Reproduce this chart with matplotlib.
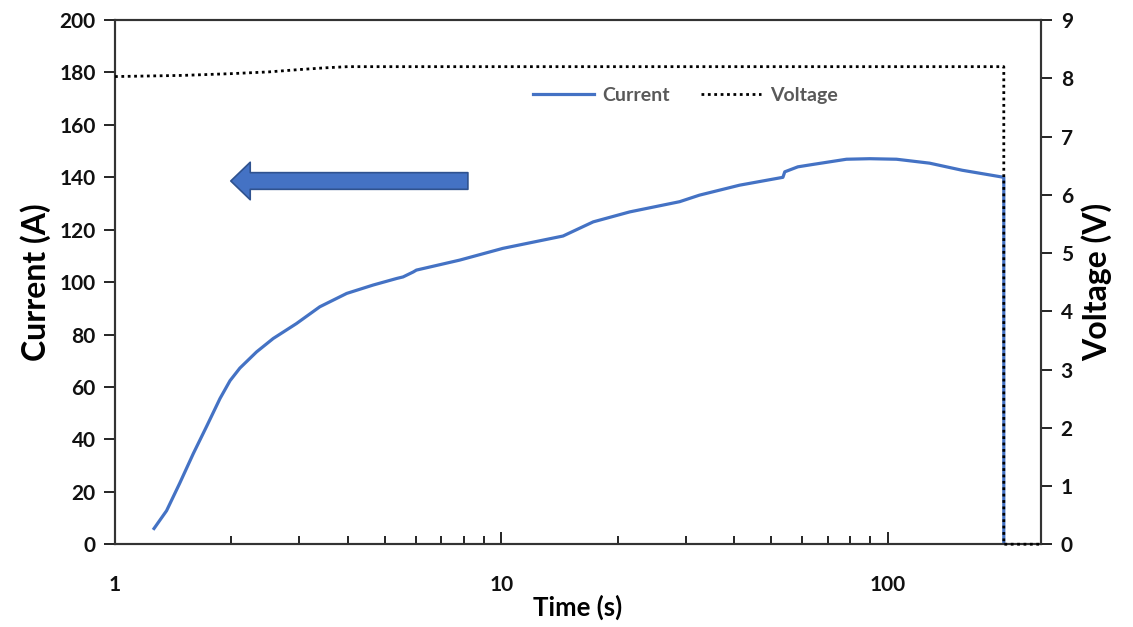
import numpy as np
import matplotlib.pyplot as plt
from matplotlib.ticker import FixedLocator, NullFormatter

plt.rcParams['font.family'] = ['Lato', 'DejaVu Sans']

# current trace (time in s, current in A)
t_current = [1.262, 1.36, 1.47, 1.595, 1.727, 1.87, 1.985, 2.105, 2.326, 2.568,
             2.95, 3.39, 3.98, 4.66, 5.36, 5.57, 5.92, 6.03, 7.8, 10.1, 14.45,
             17.3, 21.5, 28.96, 32.6, 41.4, 53.6, 54.2, 58.6, 64.0, 78.3, 90.0,
             105.5, 128.5, 156.0, 200.0, 200.0]
current = [6.0, 12.8, 23.2, 34.6, 45.0, 55.6, 62.4, 67.2, 73.4, 78.5,
           84.2, 90.6, 95.7, 98.9, 101.4, 102.0, 103.9, 104.6, 108.4, 112.9, 117.6,
           123.0, 126.8, 130.7, 133.2, 137.0, 140.0, 142.1, 144.0, 144.9, 146.9, 147.1,
           146.9, 145.4, 142.7, 140.0, 0.0]

# voltage trace (time in s, voltage in V)
t_voltage = [1.0, 1.5, 2.0, 2.5, 3.0, 3.5, 4.0, 10.0, 50.0, 200.0, 200.0, 250.0]
voltage = [8.03, 8.05, 8.08, 8.11, 8.15, 8.18, 8.2, 8.2, 8.2, 8.2, 0.0, 0.0]

fig, ax = plt.subplots(figsize=(11.33, 6.27), dpi=100)
fig.subplots_adjust(left=0.1015, right=0.919, top=0.968, bottom=0.132)
ax2 = ax.twinx()

l1, = ax.plot(t_current, current, color='#4472C4', lw=2.3,
              solid_joinstyle='round', label='Current')
l2, = ax2.plot(t_voltage, voltage, color='black', lw=2.0, ls=(0, (1, 1.3)),
               label='Voltage', clip_on=False, zorder=3)

ax.set_xscale('log')
ax.set_xlim(1, 250)
ax.set_ylim(0, 200)
ax2.set_ylim(0, 9)
ax.set_yticks(range(0, 201, 20))
ax2.set_yticks(range(0, 10))
ax.xaxis.set_major_locator(FixedLocator([1, 10, 100]))
ax.xaxis.set_minor_locator(FixedLocator(
    [m * d for d in (1, 10, 100) for m in range(2, 10) if m * d < 250]))
ax.xaxis.set_minor_formatter(NullFormatter())
ax.set_xticklabels(['1', '10', '100'])

for lab in ax.get_xticklabels() + ax.get_yticklabels() + ax2.get_yticklabels():
    lab.set_fontsize(15)
    lab.set_fontweight('bold')
    lab.set_color('#111111')

ax.tick_params(axis='x', which='major', direction='in', length=9, width=1.2, pad=22)
ax.tick_params(axis='x', which='minor', direction='in', length=6, width=1.2)
ax.tick_params(axis='y', direction='out', length=8, width=1.2, pad=6)
ax2.tick_params(axis='y', direction='out', length=8, width=1.2, pad=6)

for a in (ax, ax2):
    for s in a.spines.values():
        s.set_color('#333333')
        s.set_linewidth(1.5)

ax.set_xlabel('Time (s)', fontsize=18.5, fontweight='bold', labelpad=0)
ax.set_ylabel('Current (A)', fontsize=23, fontweight='bold', labelpad=6)
ax2.set_ylabel('Voltage (V)', fontsize=23, fontweight='bold', labelpad=6)

# block arrow pointing to the current axis
ax.annotate('', xy=(0.125, 0.693), xytext=(0.381, 0.693),
            xycoords='axes fraction', textcoords='axes fraction',
            arrowprops=dict(arrowstyle='simple,head_length=14,head_width=27,tail_width=12',
                            mutation_scale=1, fc='#4472C4', ec='#2F528F', lw=1.2,
                            shrinkA=0, shrinkB=0))

leg = ax.legend(handles=[l1, l2], loc='center', bbox_to_anchor=(0.616, 0.857),
                ncol=2, frameon=False, fontsize=14, handlelength=3.1,
                columnspacing=1.6, handletextpad=0.45)
for txt in leg.get_texts():
    txt.set_color('#595959')
    txt.set_fontweight('bold')

fig.savefig('out.png', dpi=100)
